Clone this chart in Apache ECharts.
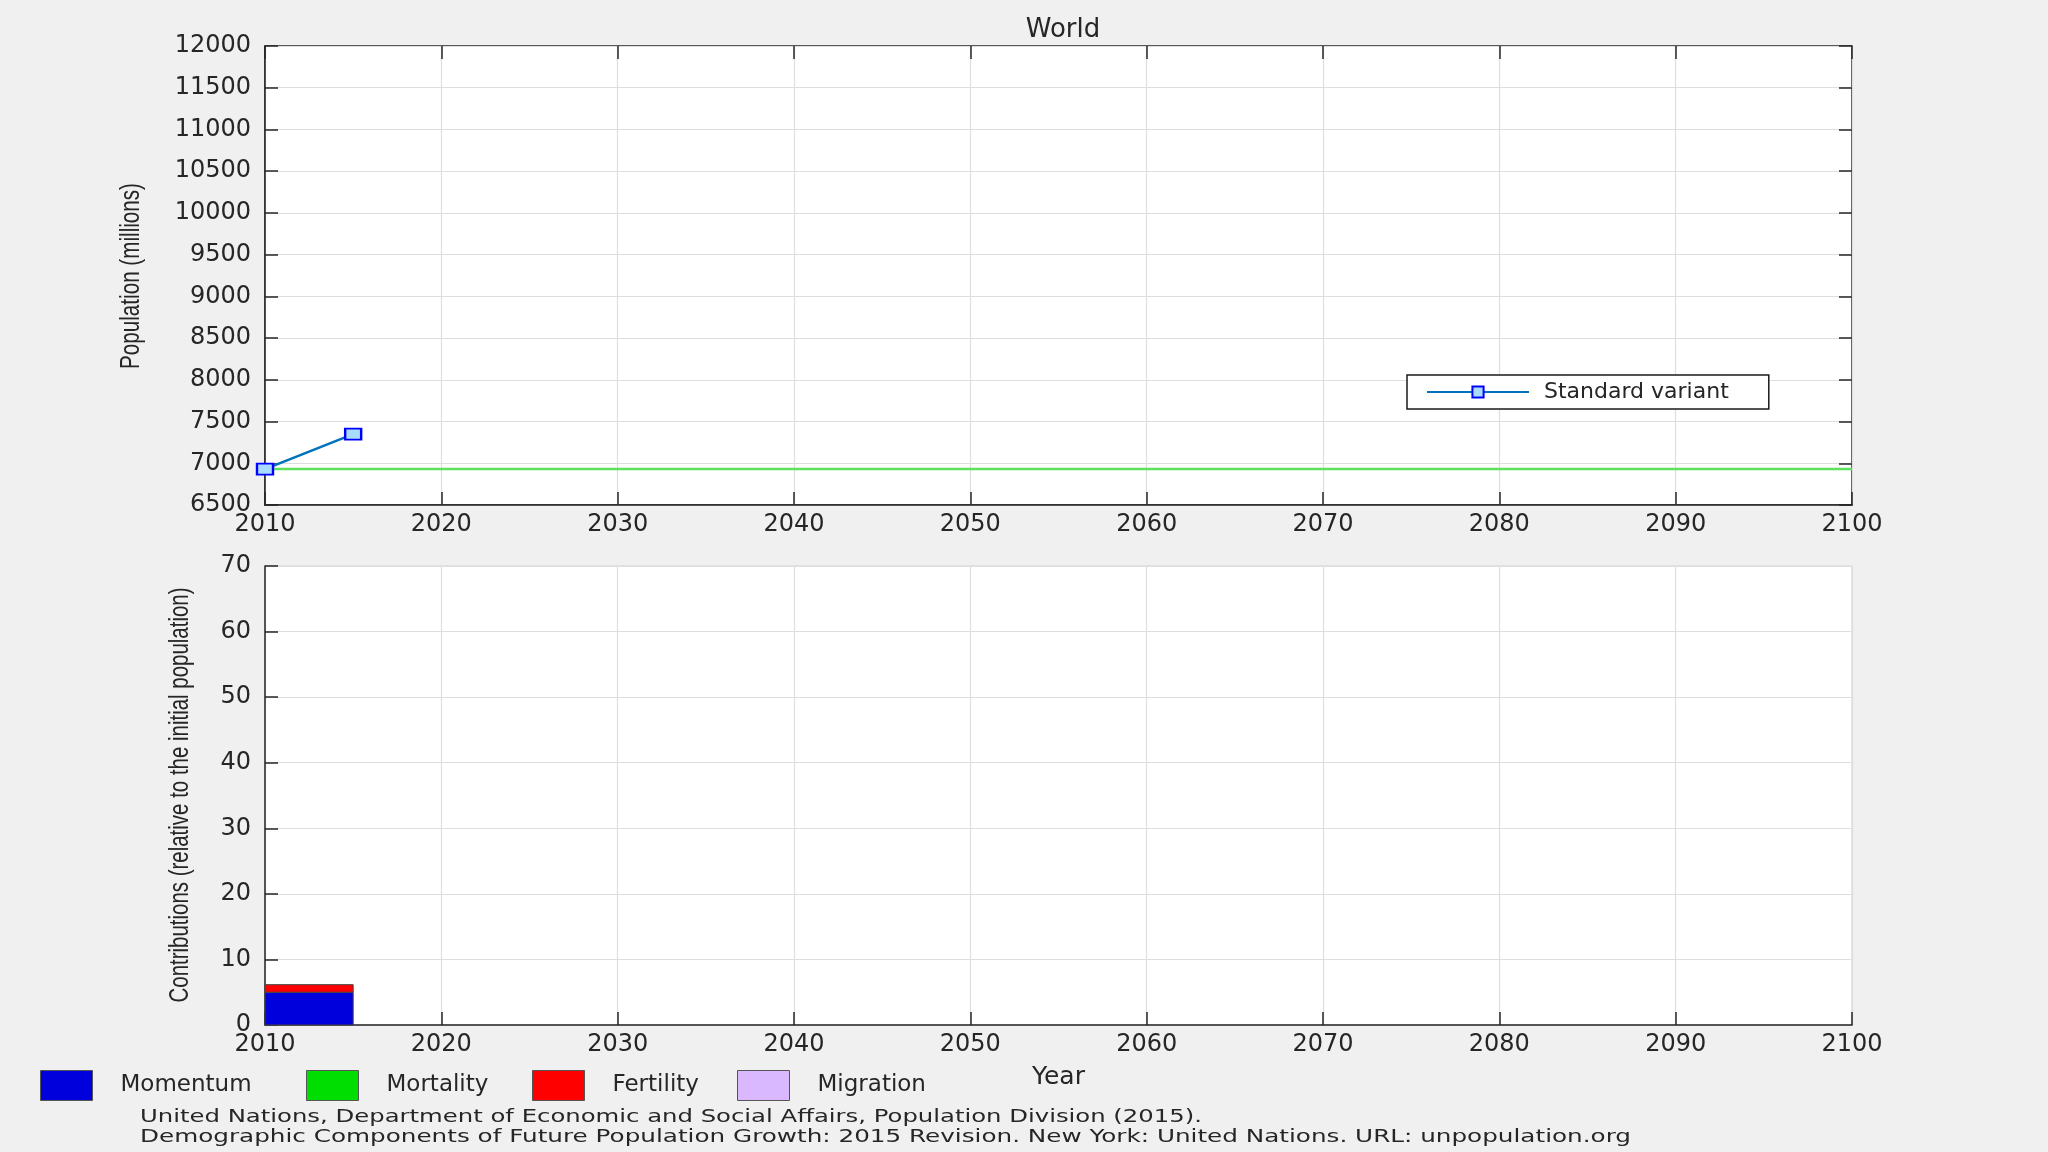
<!DOCTYPE html>
<html><head><meta charset="utf-8">
<script src="https://cdn.jsdelivr.net/npm/echarts@6/dist/echarts.min.js"></script>
<style>html,body{margin:0;padding:0;background:#f0f0f0;}#c{width:2048px;height:1152px;}</style>
</head><body><div id="c"></div>
<script>
// ---- data ----
const variantYears = [2010, 2015];
const variantPop = [6930, 7350];           // Standard variant (millions)
const initialPop = 6930;                   // initial population reference line
const initialLineYears = [2010, 2100];
const periodStart = [2010];
const periodEnd = [2015];
const momentum = [5.0];
const mortality = [0];
const fertility = [1.15];
const migration = [0];
const topYName = 'Population (millions)';
const botYName = 'Contributions (relative to the initial population)';
const footnotes = [
  'United Nations, Department of Economic and Social Affairs, Population Division (2015).',
  'Demographic Components of Future Population Growth: 2015 Revision. New York: United Nations. URL: unpopulation.org'
];

const FONT = "'DejaVu Sans', Arial, sans-serif";
const TXT = '#262626';

// text measuring for the stretched/condensed MATLAB-style labels
const mctx = document.createElement('canvas').getContext('2d');
function textW(t, font) { mctx.font = font; return mctx.measureText(t).width; }
const NAME_FONT = "27px 'Liberation Sans', Arial, sans-serif";
const FOOT_FONT = "18px 'DejaVu Sans', Arial, sans-serif";
function rotName(t, cx, cy, len) {
  return {type: 'text', x: cx, y: cy, rotation: Math.PI / 2, scaleX: len / textW(t, NAME_FONT),
    style: {text: t, fill: TXT, font: NAME_FONT, align: 'center', verticalAlign: 'middle'}};
}
const footTargets = [1062, 1491];

// stacked rectangles for contribution bars
const comps = [
  {name: 'Momentum', vals: momentum, color: '#0000dd'},
  {name: 'Mortality', vals: mortality, color: '#00dd00'},
  {name: 'Fertility', vals: fertility, color: '#ff0000'},
  {name: 'Migration', vals: migration, color: '#d9b8ff'}
];
const base = periodStart.map(() => 0);
const compSeries = comps.map(c => {
  const data = c.vals.map((v, i) => {
    const d = [periodStart[i], periodEnd[i], base[i], base[i] + v];
    base[i] += v;
    return d;
  });
  return {
    name: c.name, type: 'custom', xAxisIndex: 2, yAxisIndex: 2,
    itemStyle: {color: c.color},
    encode: {x: [0, 1], y: [2, 3]},
    data: data,
    renderItem: function (params, api) {
      const p0 = api.coord([api.value(0), api.value(2)]);
      const p1 = api.coord([api.value(1), api.value(3)]);
      const h = p0[1] - p1[1];
      if (h <= 0) return null;
      return {type: 'rect', shape: {x: p0[0], y: p1[1], width: p1[0] - p0[0], height: h},
        style: {fill: c.color, stroke: '#444', lineWidth: 1}};
    },
    z: 3
  };
});

const chart = echarts.init(document.getElementById('c'), null, {renderer: 'canvas'});
const gridTop = {left: 265, top: 46, width: 1587, height: 459};
const gridBot = {left: 265, top: 566, width: 1587, height: 459};
const tickLabel = {color: TXT, fontFamily: FONT, fontSize: 24};
const split = {show: true, lineStyle: {color: '#dedede', width: 1.2}};
const plain = v => String(v);

const legendItems = [
  {name: 'Momentum', left: 40},
  {name: 'Mortality', left: 306},
  {name: 'Fertility', left: 532},
  {name: 'Migration', left: 737}
];

chart.setOption({
  backgroundColor: '#f0f0f0',
  animation: false,
  title: {text: 'World', left: 1058, textAlign: 'center', top: 12,
    textStyle: {color: TXT, fontFamily: FONT, fontSize: 26, fontWeight: 'normal'}},
  grid: [
    Object.assign({show: true, backgroundColor: '#ffffff', borderColor: '#262626', borderWidth: 1.5}, gridTop),
    Object.assign({show: true, backgroundColor: '#ffffff', borderColor: '#d4d4d4', borderWidth: 1.2}, gridBot)
  ],
  legend: [
    {
      data: ['Standard variant'], left: 1407, top: 375, orient: 'horizontal',
      backgroundColor: '#ffffff', borderColor: '#1a1a1a', borderWidth: 1.5, borderRadius: 0,
      padding: [6, 40, 6, 19], itemWidth: 102, itemHeight: 14, selectedMode: false,
      textStyle: {color: TXT, fontFamily: FONT, fontSize: 22, padding: [0, 0, 0, 10]}
    }
  ].concat(legendItems.map(li => {
    const c = comps.find(cc => cc.name === li.name);
    return {
      data: [{name: li.name, icon: 'rect', itemStyle: {color: c.color, borderColor: '#555', borderWidth: 1}}],
      left: li.left, top: 1070, itemWidth: 52, itemHeight: 30, selectedMode: false, padding: 0,
      textStyle: {color: TXT, fontFamily: FONT, fontSize: 23, padding: [0, 0, 0, 23]}
    };
  })),
  xAxis: [
    {gridIndex: 0, type: 'value', min: 2010, max: 2100, interval: 10, position: 'bottom',
      axisLine: {show: true, lineStyle: {color: '#262626', width: 1.5}},
      axisTick: {show: true, inside: true, length: 13, lineStyle: {color: '#262626', width: 1.5}},
      axisLabel: Object.assign({margin: 8, formatter: plain}, tickLabel),
      splitLine: split},
    {gridIndex: 0, type: 'value', min: 2010, max: 2100, interval: 10, position: 'top',
      axisLine: {show: false},
      axisTick: {show: true, inside: true, length: 13, lineStyle: {color: '#262626', width: 1.5}},
      axisLabel: {show: false}, splitLine: {show: false}},
    {gridIndex: 1, type: 'value', min: 2010, max: 2100, interval: 10, position: 'bottom',
      name: 'Year', nameLocation: 'middle', nameGap: 40,
      nameTextStyle: {color: TXT, fontFamily: FONT, fontSize: 25},
      axisLine: {show: true, lineStyle: {color: '#262626', width: 1.5}},
      axisTick: {show: true, inside: true, length: 13, lineStyle: {color: '#262626', width: 1.5}},
      axisLabel: Object.assign({margin: 8, formatter: plain}, tickLabel),
      splitLine: split}
  ],
  yAxis: [
    {gridIndex: 0, type: 'value', min: 6500, max: 12000, interval: 500, position: 'left',
      axisLine: {show: true, lineStyle: {color: '#262626', width: 1.5}},
      axisTick: {show: true, inside: true, length: 13, lineStyle: {color: '#262626', width: 1.5}},
      axisLabel: Object.assign({margin: 14, formatter: plain}, tickLabel),
      splitLine: split},
    {gridIndex: 0, type: 'value', min: 6500, max: 12000, interval: 500, position: 'right',
      axisLine: {show: false},
      axisTick: {show: true, inside: true, length: 13, lineStyle: {color: '#262626', width: 1.5}},
      axisLabel: {show: false}, splitLine: {show: false}},
    {gridIndex: 1, type: 'value', min: 0, max: 70, interval: 10, position: 'left',
      axisLine: {show: true, lineStyle: {color: '#262626', width: 1.5}},
      axisTick: {show: true, inside: true, length: 13, lineStyle: {color: '#262626', width: 1.5}},
      axisLabel: Object.assign({margin: 14, formatter: plain}, tickLabel),
      splitLine: split}
  ],
  graphic: [
    rotName(topYName, 132, 276, 186),
    rotName(botYName, 181, 795, 415)
  ].concat(footnotes.map((t, i) => ({
    type: 'text', x: 140, y: 1117 + i * 20, scaleX: footTargets[i] / textW(t, FOOT_FONT),
    style: {text: t, fill: TXT, font: FOOT_FONT, verticalAlign: 'middle'}
  }))),
  series: [
    {name: 'Initial population', type: 'line', xAxisIndex: 0, yAxisIndex: 0,
      data: initialLineYears.map(y => [y, initialPop]), symbol: 'none',
      lineStyle: {color: '#5ee05e', width: 2.5}, itemStyle: {color: '#5ee05e'}, z: 2, silent: true},
    {name: 'Standard variant', type: 'line', xAxisIndex: 0, yAxisIndex: 0,
      data: variantYears.map((y, i) => [y, variantPop[i]]),
      symbol: 'rect', symbolSize: [16, 11], clip: false,
      lineStyle: {color: '#0072bd', width: 2.5},
      itemStyle: {color: '#a8dcff', borderColor: '#0000ff', borderWidth: 2}, z: 4}
  ].concat(compSeries)
});
</script></body></html>
